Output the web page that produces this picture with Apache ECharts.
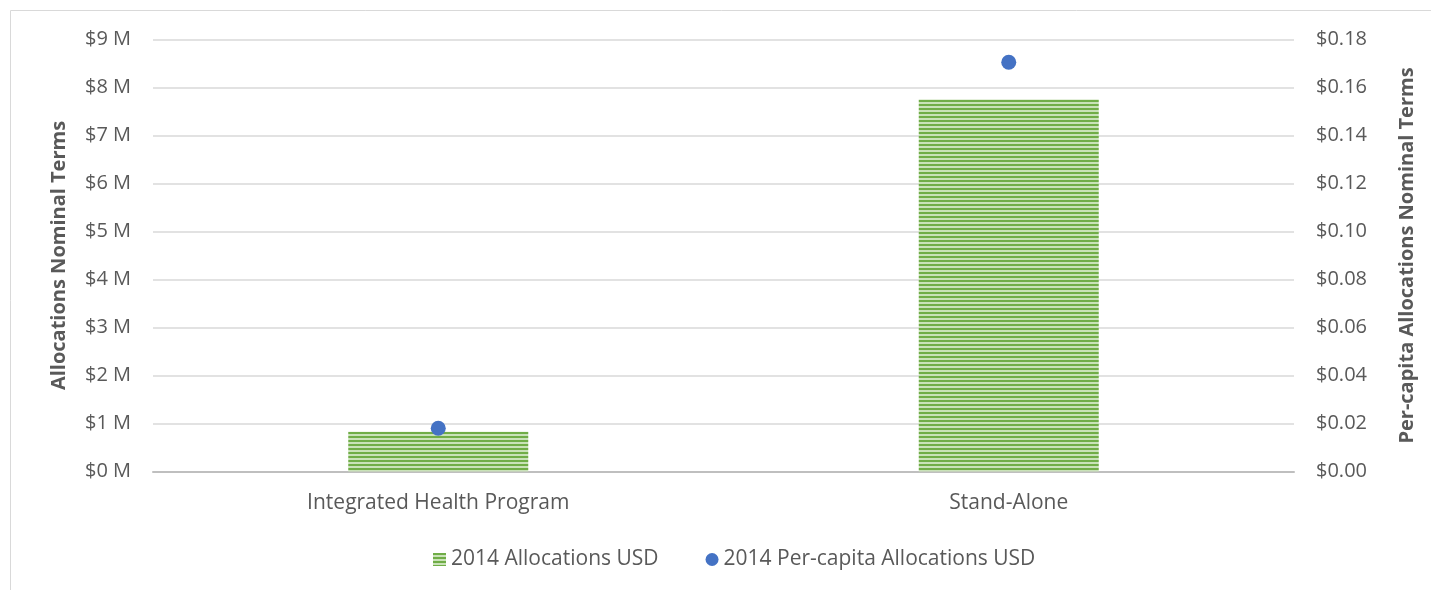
<!DOCTYPE html>
<html><head><meta charset="utf-8">
<script src="https://cdn.jsdelivr.net/npm/echarts@6/dist/echarts.min.js"></script>
<style>html,body{margin:0;padding:0;background:#fff}#c{width:1431px;height:590px}</style>
</head><body><div id="c"></div>
<script>
const categories = ['Integrated Health Program', 'Stand-Alone'];
const allocations = [0.83, 7.75];          // $ M
const perCapita = [0.018, 0.1705];         // $
const leftTicks = [0, 9, 1];               // min, max, interval
const rightTicks = [0, 0.18, 0.02];
const seriesNames = ['2014 Allocations USD', '2014 Per-capita Allocations USD'];

function stripe(){
  const c = document.createElement('canvas'); c.width = 8; c.height = 4;
  const g = c.getContext('2d');
  g.fillStyle = '#c9e2b8'; g.fillRect(0,0,8,4);
  g.fillStyle = '#70AD47'; g.fillRect(0,0,8,2);
  return c;
}
const pat = {image: stripe(), repeat: 'repeat'};
const font = '"Open Sans", sans-serif';
const fs = 20;
const chart = echarts.init(document.getElementById('c'));
chart.setOption({
  animation: false,
  textStyle: {fontFamily: font},
  graphic: [{type:'rect', shape:{x:10.5,y:10.5,width:1440,height:600}, style:{fill:'none', stroke:'#d9d9d9', lineWidth:1}}],
  grid: {left:153, right:137, top:39.5, bottom:118.5},
  legend: {bottom: 15, left: 428, itemGap: 47, itemWidth: 13, itemHeight: 13,
    textStyle:{color:'#595959', fontSize:21, fontFamily:font},
    data: [{name: seriesNames[0], icon:'rect'}, {name: seriesNames[1], icon:'circle', itemStyle:{opacity:1}}]},
  xAxis: {type:'category', data: categories, axisTick:{show:false},
    axisLine:{lineStyle:{color:'#bfbfbf', width:2}},
    axisLabel:{color:'#595959', fontSize:21, margin:21, fontFamily:font}},
  yAxis: [
    {type:'value', min:leftTicks[0], max:leftTicks[1], interval:leftTicks[2],
     name:'Allocations Nominal Terms', nameLocation:'middle', nameGap:84, nameRotate:90,
     nameTextStyle:{color:'#595959', fontSize:fs, fontWeight:'bold', fontFamily:font},
     axisLabel:{color:'#595959', fontSize:fs, margin:22, formatter: v => '$' + v + ' M', fontFamily:font},
     splitLine:{lineStyle:{color:'#d9d9d9', width:1.5}}, axisLine:{show:false}, axisTick:{show:false}},
    {type:'value', min:rightTicks[0], max:rightTicks[1], interval:rightTicks[2],
     name:'Per-capita Allocations Nominal Terms', nameLocation:'middle', nameGap:103, nameRotate:90,
     nameTextStyle:{color:'#595959', fontSize:fs, fontWeight:'bold', fontFamily:font},
     axisLabel:{color:'#595959', fontSize:fs, margin:22, formatter: v => '$' + v.toFixed(2), fontFamily:font},
     splitLine:{show:false}, axisLine:{show:false}, axisTick:{show:false}}
  ],
  series: [
    {name: seriesNames[0], type:'bar', data: allocations, barWidth:180, yAxisIndex:0,
     itemStyle:{color: pat}, z:2},
    {name: seriesNames[1], type:'scatter', data: perCapita, yAxisIndex:1, symbolSize:15,
     itemStyle:{color:'#4472C4', opacity:1}, z:3}
  ]
});
</script></body></html>
